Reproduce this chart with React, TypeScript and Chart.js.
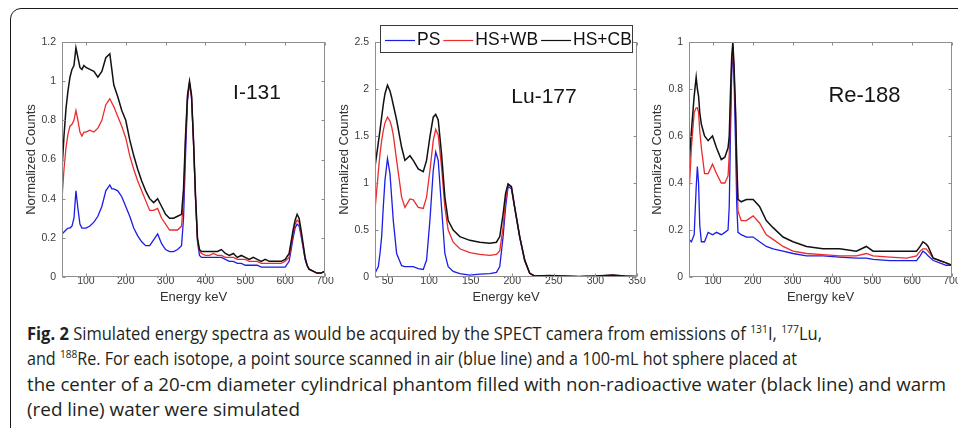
import React, { useEffect, useLayoutEffect, useRef } from "react";
import { Chart, registerables } from "chart.js";

Chart.register(...registerables);

// ---------- data ----------
const SERIES_LABELS = ["PS", "HS+WB", "HS+CB"];
const SERIES_COLORS = ["#1c1ce8", "#ec2b2b", "#111111"];

// I-131
const I131_ENERGY = [40,45,50,55,60,65,70,75,80,85,90,95,100,110,120,130,140,150,160,165,170,180,190,200,210,220,230,240,250,260,270,280,290,300,310,320,330,340,345,350,355,360,365,370,375,380,385,390,400,410,420,430,440,450,460,470,480,490,500,510,520,530,540,550,560,570,580,590,600,610,615,620,625,630,635,640,645,650,655,660,670,680,690,700];
const I131_PS = [0.22,0.23,0.24,0.25,0.25,0.26,0.30,0.44,0.35,0.27,0.25,0.25,0.25, 0.26,0.28,0.31,0.36,0.44,0.47, 0.45, 0.45,0.44,0.41,0.36,0.31,0.25,0.21,0.18,0.16,0.16,0.19,0.22,0.17,0.14,0.13,0.13,0.14,0.16, 0.30,0.62,0.90,0.99,0.92,0.69,0.40,0.18,0.11,0.10, 0.10,0.10,0.10,0.10,0.10,0.09,0.08,0.08,0.07,0.07,0.06,0.06,0.06,0.06,0.05,0.05,0.05,0.05,0.05,0.05,0.05,0.08, 0.14,0.20,0.25,0.27,0.26,0.21,0.15,0.09,0.06,0.04, 0.03,0.02,0.02,0.03];
const I131_HSWB = [0.40,0.55,0.66,0.73,0.77,0.78,0.80,0.85,0.80,0.74,0.72,0.74,0.74, 0.75,0.74,0.76,0.80,0.88,0.91, 0.89, 0.87,0.82,0.77,0.71,0.62,0.55,0.49,0.44,0.39,0.34,0.34,0.35,0.30,0.27,0.24,0.24,0.24,0.26, 0.40,0.70,0.92,0.99,0.92,0.69,0.41,0.19,0.13,0.12, 0.11,0.11,0.12,0.11,0.11,0.10,0.10,0.10,0.09,0.09,0.09,0.08,0.08,0.08,0.07,0.07,0.07,0.07,0.07,0.07,0.08,0.10, 0.16,0.22,0.27,0.29,0.28,0.22,0.16,0.10,0.06,0.04, 0.03,0.02,0.02,0.03];
const I131_HSCB = [0.55,0.72,0.86,0.95,1.02,1.06,1.08,1.17,1.12,1.07,1.06,1.08,1.07, 1.06,1.05,1.02,1.05,1.12,1.14, 1.06, 0.98,0.92,0.85,0.80,0.70,0.62,0.55,0.49,0.44,0.40,0.38,0.40,0.36,0.32,0.30,0.30,0.31,0.32, 0.45,0.72,0.93,1.00,0.93,0.70,0.42,0.20,0.14,0.13, 0.13,0.13,0.13,0.13,0.14,0.12,0.11,0.12,0.10,0.11,0.10,0.09,0.10,0.09,0.08,0.09,0.08,0.08,0.08,0.08,0.09,0.12, 0.18,0.24,0.29,0.32,0.30,0.24,0.17,0.10,0.06,0.04, 0.03,0.02,0.02,0.03];
const I131_XTICKS = [100,200,300,400,500,600,700];
const I131_YTICKS = [0,0.2,0.4,0.6,0.8,1,1.2];

// Lu-177
const LU177_ENERGY = [35,39,41,43,45,47,50,53,55,57,61,67,71,77,81,87,93,97,101,105,108,111,115,119,123,129,137,149,161,173,181,185,189,192,195,199,203,209,215,221,227,245,260,280,300,321,335,350];
const LU177_PS = [0.04,0.11,0.25,0.43,0.75,1.03,1.26,1.10,0.85,0.60, 0.25,0.12,0.11,0.11,0.11,0.09,0.08,0.18,0.60,1.13, 1.33,1.24,0.74,0.25,0.11,0.06,0.035,0.02,0.03,0.035, 0.05,0.11,0.43,0.74,0.96,0.94,0.73,0.42,0.17,0.04, 0.01,0.01,0.01,0.005,0.01,0.015,0.01,0.005];
const LU177_HSWB = [0.71,1.12,1.31,1.45,1.56,1.64,1.70,1.66,1.60,1.51, 1.24,0.85,0.74,0.83,0.82,0.74,0.73,0.85,1.13,1.45, 1.57,1.51,1.17,0.74,0.50,0.37,0.30,0.26,0.24,0.23, 0.24,0.28,0.53,0.82,0.98,0.96,0.74,0.43,0.18,0.04, 0.01,0.015,0.01,0.005,0.01,0.02,0.01,0.005];
const LU177_HSCB = [1.17,1.43,1.56,1.70,1.84,1.95,2.04,1.98,1.91,1.83, 1.67,1.38,1.24,1.29,1.24,1.15,1.12,1.24,1.49,1.70, 1.73,1.67,1.31,0.85,0.60,0.50,0.43,0.39,0.37,0.36, 0.37,0.43,0.67,0.89,0.99,0.96,0.74,0.43,0.18,0.04, 0.01,0.015,0.01,0.005,0.01,0.02,0.01,0.005];
const LU177_XTICKS = [50,100,150,200,250,300,350];
const LU177_YTICKS = [0,0.5,1,1.5,2,2.5];

// Re-188
const RE188_ENERGY = [40,46,53,58,61,64,67,71,79,88,99,109,121,130,138,141,144,147,150,153,157,160,163,171,184,201,217,234,251,276,301,335,376,418,460,485,502,544,586,611,620,627,635,640,653,669,685,700];
const RE188_PS = [0.16,0.15,0.18,0.38,0.47,0.40,0.22,0.15,0.15,0.19, 0.18,0.19,0.18,0.19,0.20,0.30,0.60,0.85,0.98,0.85, 0.55,0.30,0.19,0.18,0.17,0.17,0.15,0.13,0.12,0.11, 0.10,0.09,0.09,0.085,0.08,0.08,0.075,0.07,0.07,0.07, 0.09,0.11,0.10,0.09,0.07,0.06,0.05,0.05];
const RE188_HSWB = [0.35,0.55,0.70,0.72,0.72,0.70,0.62,0.55,0.44,0.44, 0.48,0.44,0.40,0.40,0.43,0.52,0.72,0.90,0.99,0.88, 0.68,0.45,0.28,0.24,0.24,0.26,0.23,0.18,0.16,0.13, 0.11,0.10,0.095,0.09,0.09,0.10,0.09,0.085,0.08,0.09, 0.11,0.12,0.12,0.11,0.08,0.07,0.06,0.05];
const RE188_HSCB = [0.48,0.62,0.77,0.85,0.80,0.77,0.70,0.65,0.60,0.58, 0.60,0.55,0.50,0.51,0.55,0.60,0.78,0.93,1.00,0.90, 0.70,0.48,0.33,0.32,0.33,0.33,0.30,0.24,0.21,0.17, 0.15,0.13,0.12,0.12,0.11,0.13,0.11,0.11,0.11,0.11, 0.13,0.15,0.14,0.13,0.08,0.07,0.06,0.05];
const RE188_XTICKS = [100,200,300,400,500,600,700];
const RE188_YTICKS = [0,0.2,0.4,0.6,0.8,1];

const X_TITLE = "Energy keV";
const Y_TITLE = "Normalized Counts";

// ---------- rendering ----------
const FONT = '"Liberation Sans", Arial, Helvetica, sans-serif';
const CANVAS_H = 305;

type PanelCfg = {
  name: string;
  energy: number[];
  series: number[][];
  xMin: number; xMax: number; xTicks: number[];
  yMax: number; yTicks: number[];
  left: number; width: number;
  area: { left: number; top: number; right: number; bottom: number };
  yTitlePad: number;
  titlePos: [number, number];
  titleSize: number;
  legend: boolean;
};

const PANELS: PanelCfg[] = [
  { name: "I-131", energy: I131_ENERGY, series: [I131_PS, I131_HSWB, I131_HSCB], xMin: 40, xMax: 700, xTicks: I131_XTICKS, yMax: 1.2, yTicks: I131_YTICKS,
    left: 0, width: 340, area: { left: 62, top: 42, right: 325, bottom: 277 }, yTitlePad: 24, titlePos: [257, 93], titleSize: 21, legend: false },
  { name: "Lu-177", energy: LU177_ENERGY, series: [LU177_PS, LU177_HSWB, LU177_HSCB], xMin: 35, xMax: 350, xTicks: LU177_XTICKS, yMax: 2.5, yTicks: LU177_YTICKS,
    left: 335, width: 315, area: { left: 40, top: 42, right: 302, bottom: 277 }, yTitlePad: 2, titlePos: [209, 97], titleSize: 21, legend: true },
  { name: "Re-188", energy: RE188_ENERGY, series: [RE188_PS, RE188_HSWB, RE188_HSCB], xMin: 40, xMax: 700, xTicks: RE188_XTICKS, yMax: 1, yTicks: RE188_YTICKS,
    left: 645, width: 313, area: { left: 44, top: 42, right: 307, bottom: 277 }, yTitlePad: 5, titlePos: [219.5, 96], titleSize: 22, legend: false },
];

function fmt(v: number) {
  return String(Math.round(v * 100) / 100);
}

function Panel({ cfg }: { cfg: PanelCfg }) {
  const ref = useRef<HTMLCanvasElement | null>(null);
  useEffect(() => {
    if (!ref.current) return;
    const a = cfg.area;
    const decor = {
      id: "panelDecor",
      afterDraw(chart: any) {
        const { ctx, chartArea: ca, scales } = chart;
        ctx.save();
        ctx.strokeStyle = "#8e8e8e";
        ctx.lineWidth = 1;
        const L = Math.round(ca.left) + 0.5, T = Math.round(ca.top) + 0.5, R = Math.round(ca.right) - 0.5, B = Math.round(ca.bottom) - 0.5;
        ctx.strokeRect(L, T, R - L, B - T);
        const tl = 3;
        ctx.beginPath();
        for (const t of scales.x.ticks) {
          const px = Math.round(scales.x.getPixelForValue(t.value)) + 0.5;
          ctx.moveTo(px, B); ctx.lineTo(px, B - tl);
          ctx.moveTo(px, T); ctx.lineTo(px, T + tl);
        }
        for (const t of scales.y.ticks) {
          const py = Math.round(scales.y.getPixelForValue(t.value)) + 0.5;
          ctx.moveTo(L, py); ctx.lineTo(L + tl, py);
          ctx.moveTo(R, py); ctx.lineTo(R - tl, py);
        }
        ctx.stroke();
        ctx.fillStyle = "#151515";
        ctx.font = `${cfg.titleSize}px ${FONT}`;
        ctx.textAlign = "center";
        ctx.textBaseline = "middle";
        ctx.fillText(cfg.name, cfg.titlePos[0], cfg.titlePos[1]);
        if (cfg.legend) {
          const bx = 45, by = 25, bw = 252, bh = 27;
          ctx.fillStyle = "#ffffff";
          ctx.fillRect(bx, by, bw, bh);
          ctx.strokeStyle = "#3a3a3a";
          ctx.strokeRect(bx + 0.5, by + 0.5, bw, bh);
          ctx.font = `17.5px ${FONT}`;
          ctx.textAlign = "left";
          let x = bx + 5;
          const cy = by + 15;
          chart.data.datasets.forEach((ds: any) => {
            ctx.strokeStyle = ds.borderColor;
            ctx.lineWidth = 1.2;
            ctx.beginPath(); ctx.moveTo(x, cy + 0.5); ctx.lineTo(x + 30, cy + 0.5); ctx.stroke();
            x += 32;
            ctx.fillStyle = "#111";
            ctx.fillText(ds.label, x, cy);
            x += ctx.measureText(ds.label).width + 3;
          });
        }
        ctx.restore();
      },
    };
    const chart = new Chart(ref.current, {
      type: "line",
      data: {
        datasets: cfg.series.map((vals, i) => ({
          label: SERIES_LABELS[i],
          data: cfg.energy.map((e, k) => ({ x: e, y: vals[k] })),
          borderColor: SERIES_COLORS[i],
          backgroundColor: SERIES_COLORS[i],
          borderWidth: i === 2 ? 1.5 : 1.3,
          pointRadius: 0,
          tension: 0,
          fill: false,
          order: 3 - i,
        })),
      },
      options: {
        animation: false,
        responsive: false,
        events: [],
        layout: { padding: { left: 0, top: a.top, right: cfg.width - a.right, bottom: 0 } },
        plugins: { legend: { display: false }, tooltip: { enabled: false } },
        scales: {
          x: {
            type: "linear",
            min: cfg.xMin,
            max: cfg.xMax,
            afterBuildTicks: (s: any) => { s.ticks = cfg.xTicks.map((v) => ({ value: v })); },
            afterFit: (s: any) => { s.height = CANVAS_H - a.bottom; s.paddingLeft = 0; s.paddingRight = 0; },
            grid: { display: false, drawTicks: false },
            border: { display: false },
            ticks: { color: "#3c3c3c", font: { size: 10.5, family: FONT }, padding: -2, maxRotation: 0, autoSkip: false, callback: (v: any) => fmt(Number(v)) },
            title: { display: true, text: X_TITLE, color: "#333", font: { size: 13, family: FONT }, padding: { top: 8, bottom: 0 } },
          },
          y: {
            type: "linear",
            min: 0,
            max: cfg.yMax,
            afterBuildTicks: (s: any) => { s.ticks = cfg.yTicks.map((v) => ({ value: v })); },
            afterFit: (s: any) => { s.width = a.left; s.paddingTop = 0; s.paddingBottom = 0; },
            grid: { display: false, drawTicks: false },
            border: { display: false },
            ticks: { color: "#3c3c3c", font: { size: 10.5, family: FONT }, padding: 6, autoSkip: false, callback: (v: any) => fmt(Number(v)) },
            title: { display: true, text: Y_TITLE, color: "#333", font: { size: 13, family: FONT }, padding: { top: cfg.yTitlePad, bottom: 0 } },
          },
        },
      },
      plugins: [decor],
    } as any);
    return () => chart.destroy();
  }, [cfg]);
  return (
    <canvas
      ref={ref}
      width={cfg.width}
      height={CANVAS_H}
      style={{ position: "absolute", left: cfg.left, top: 0, width: cfg.width, height: CANVAS_H }}
    />
  );
}

const SUP: React.CSSProperties = { fontSize: 11, position: "relative", top: -7, verticalAlign: "baseline" };
const CAPTION_WIDTHS = [795, 770, 919, 273];
const CAPTION_CENTERS = [333, 358.5, 384, 409.5];

function Caption() {
  const refs = useRef<(HTMLSpanElement | null)[]>([]);
  useLayoutEffect(() => {
    refs.current.forEach((el, i) => {
      if (!el) return;
      el.style.transform = "none";
      const w = el.getBoundingClientRect().width;
      if (w > 0) el.style.transform = `scaleX(${CAPTION_WIDTHS[i] / w})`;
    });
  }, []);
  const lines: React.ReactNode[] = [
    <>
      <b>Fig. 2</b> Simulated energy spectra as would be acquired by the SPECT camera from emissions of <span style={SUP}>131</span>I, <span style={SUP}>177</span>Lu,
    </>,
    <>
      and <span style={SUP}>188</span>Re. For each isotope, a point source scanned in air (blue line) and a 100-mL hot sphere placed at
    </>,
    <>the center of a 20-cm diameter cylindrical phantom filled with non-radioactive water (black line) and warm</>,
    <>(red line) water were simulated</>,
  ];
  return (
    <>
      {lines.map((ln, i) => (
        <div key={i} style={{ position: "absolute", left: 27, top: CAPTION_CENTERS[i] - 12.5, height: 25, lineHeight: "25px", whiteSpace: "nowrap" }}>
          <span
            ref={(el) => { refs.current[i] = el; }}
            style={{ display: "inline-block", transformOrigin: "0 50%", fontFamily: '"Open Sans", sans-serif', fontSize: 17.5, color: "#231f20" }}
          >
            {ln}
          </span>
        </div>
      ))}
    </>
  );
}

export default function App() {
  return (
    <div style={{ position: "fixed", left: 0, top: 0, width: 958, height: 428, background: "#fff", overflow: "hidden" }}>
      <div style={{ position: "absolute", left: 10, top: 8, width: 1000, height: 500, border: "1.6px solid #1a1a1a", borderRadius: 11 }} />
      {PANELS.map((p) => (
        <Panel key={p.name} cfg={p} />
      ))}
      <Caption />
    </div>
  );
}
